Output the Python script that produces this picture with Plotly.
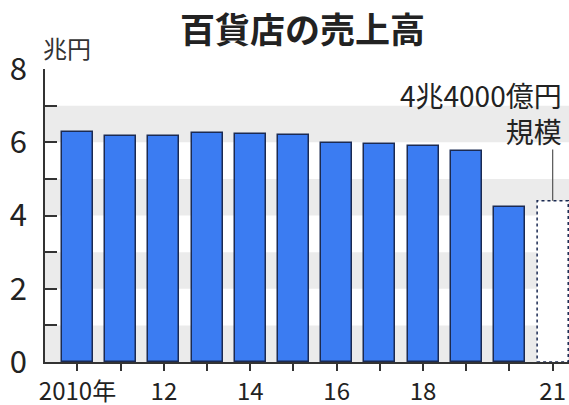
import plotly.graph_objects as go

# Department store sales (trillion yen); the last year is an estimate
years = [2010, 2011, 2012, 2013, 2014, 2015, 2016, 2017, 2018, 2019, 2020, 2021]
sales = [6.29, 6.16, 6.16, 6.24, 6.22, 6.19, 5.99, 5.95, 5.89, 5.75, 4.24, 4.40]
estimate_year = 2021
estimate_value = 4.40

x_tick_labels = ["2010年", "", "12", "", "14", "", "16", "", "18", "", "", "21"]
y_ticks = [0, 1, 2, 3, 4, 5, 6, 7, 8]
y_tick_labels = ["0", "", "2", "", "4", "", "6", "", "8"]
band_ranges = [(0, 1), (2, 3), (4, 5), (6, 7)]

FONT = "Noto Sans CJK JP"
BLUE = "#3b7cf2"
EDGE = "#1b2a52"
TEXT = "#222222"
BAR_W = 0.72

actual_years = [y for y in years if y != estimate_year]
actual_sales = [v for y, v in zip(years, sales) if y != estimate_year]

fig = go.Figure()
fig.add_trace(go.Bar(
    x=actual_years, y=actual_sales, width=BAR_W,
    marker=dict(color=BLUE, line=dict(color=EDGE, width=1.5)),
    hoverinfo="x+y", showlegend=False,
))
# estimate bar: white fill, outline added as a dashed shape below
fig.add_trace(go.Bar(
    x=[estimate_year], y=[estimate_value], width=BAR_W,
    marker=dict(color="white", line=dict(width=0)),
    hoverinfo="x+y", showlegend=False,
))

shapes = []
for lo, hi in band_ranges:
    shapes.append(dict(type="rect", xref="x domain", yref="y",
                       x0=0, x1=1, y0=lo, y1=hi,
                       fillcolor="#ebebeb", line=dict(width=0), layer="below"))
shapes.append(dict(type="rect", xref="x", yref="y",
                   x0=estimate_year - BAR_W / 2, x1=estimate_year + BAR_W / 2,
                   y0=0, y1=estimate_value,
                   line=dict(color=EDGE, width=1.5, dash="dot"),
                   fillcolor="rgba(0,0,0,0)", layer="above"))
# leader line from the callout down to the estimate bar
shapes.append(dict(type="line", xref="x", yref="y",
                   x0=estimate_year, x1=estimate_year,
                   y0=estimate_value, y1=5.8,
                   line=dict(color="#555555", width=1.2)))

annotations = [
    dict(text="<b>百貨店の売上高</b>", xref="paper", yref="paper",
         x=0.4905, y=1.14, xanchor="center", yanchor="middle",
         showarrow=False, font=dict(family=FONT, size=35, color=TEXT)),
    dict(text="兆円", xref="paper", yref="paper",
         x=-0.007, y=1.073, xanchor="left", yanchor="middle",
         showarrow=False, font=dict(family=FONT, size=24, color="#333333")),
    dict(text="4兆4000億円<br>規模", xref="paper", yref="paper",
         x=0.99, y=0.985, xanchor="right", yanchor="top", align="right",
         showarrow=False, font=dict(family=FONT, size=28, color=TEXT)),
]

fig.update_layout(
    width=569, height=405,
    margin=dict(l=45, r=0, t=69, b=43, autoexpand=False),
    paper_bgcolor="white", plot_bgcolor="white",
    bargap=0, shapes=shapes, annotations=annotations,
    font=dict(family=FONT, color=TEXT),
)
fig.update_xaxes(
    range=[2009.248, 2021.378], automargin=False,
    tickmode="array", tickvals=years, ticktext=x_tick_labels,
    ticks="outside", ticklen=7, tickwidth=1.5, tickcolor="#333333",
    showline=True, linecolor="#333333", linewidth=1.5,
    showgrid=False, zeroline=False, ticklabelstandoff=0,
    tickfont=dict(family=FONT, size=24, color=TEXT),
)
fig.update_yaxes(
    range=[0, 8], automargin=False,
    tickmode="array", tickvals=y_ticks, ticktext=y_tick_labels,
    ticks="inside", ticklen=12, tickwidth=1.5, tickcolor="#333333",
    showline=True, linecolor="#333333", linewidth=1.5,
    showgrid=False, zeroline=False, ticklabelstandoff=10,
    tickfont=dict(family=FONT, size=31, color=TEXT),
)

fig.write_html("out.html")
